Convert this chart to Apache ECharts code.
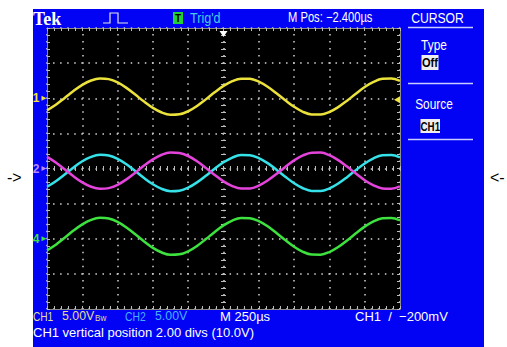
<!DOCTYPE html>
<html>
<head>
<meta charset="utf-8">
<title>TDS scope screen</title>
<script src="https://cdn.jsdelivr.net/npm/echarts@6/dist/echarts.min.js"></script>
<style>
  html, body { margin: 0; padding: 0; background: #ffffff; }
  #scope { width: 507px; height: 347px; }
</style>
</head>
<body>
<div id="scope"></div>
<script>
// Acquisition: 250 µs/div, 10 horizontal divisions, one sample every 62.5 µs
const timeUs = [
  -1250, -1187.5, -1125, -1062.5, -1000, -937.5, -875, -812.5, -750, -687.5,
  -625, -562.5, -500, -437.5, -375, -312.5, -250, -187.5, -125, -62.5,
  0, 62.5, 125, 187.5, 250, 312.5, 375, 437.5, 500, 562.5,
  625, 687.5, 750, 812.5, 875, 937.5, 1000, 1062.5, 1125, 1187.5, 1250
];

// Trace voltages (V), relative to each channel's ground marker
const ch1Volts = [
  -1.72, -0.93, 0.04, 1.03, 1.91, 2.53, 2.82, 2.72, 2.25, 1.48,
  0.52, -0.48, -1.37, -2.03, -2.35, -2.28, -1.85, -1.10, -0.16, 0.85,
  1.76, 2.44, 2.79, 2.77, 2.36, 1.64, 0.71, -0.29, -1.22, -1.93,
  -2.32, -2.33, -1.96, -1.26, -0.35, 0.65, 1.60, 2.33, 2.76, 2.80, 2.47
];
const ch2Volts = [
  -2.60, -1.81, -0.85, 0.15, 1.03, 1.65, 1.94, 1.84, 1.37, 0.60,
  -0.36, -1.36, -2.25, -2.91, -3.23, -3.16, -2.73, -1.98, -1.04, -0.03,
  0.88, 1.56, 1.91, 1.89, 1.48, 0.76, -0.17, -1.17, -2.10, -2.81,
  -3.20, -3.21, -2.84, -2.14, -1.23, -0.23, 0.72, 1.45, 1.88, 1.92, 1.59
];
const ch3Volts = [
  1.65, 0.86, -0.11, -1.10, -1.98, -2.60, -2.89, -2.79, -2.32, -1.55,
  -0.59, 0.41, 1.30, 1.96, 2.28, 2.21, 1.78, 1.03, 0.09, -0.92,
  -1.83, -2.51, -2.86, -2.84, -2.43, -1.71, -0.78, 0.22, 1.15, 1.86,
  2.25, 2.26, 1.89, 1.19, 0.28, -0.72, -1.67, -2.40, -2.83, -2.87, -2.54
];
const ch4Volts = [
  -1.65, -0.84, 0.14, 1.16, 2.05, 2.69, 2.98, 2.88, 2.40, 1.61,
  0.63, -0.38, -1.30, -1.96, -2.29, -2.22, -1.78, -1.02, -0.05, 0.97,
  1.90, 2.59, 2.95, 2.93, 2.51, 1.78, 0.83, -0.19, -1.13, -1.86,
  -2.25, -2.27, -1.89, -1.18, -0.25, 0.77, 1.73, 2.48, 2.91, 2.96, 2.62
];

// Vertical settings per channel: CH1, CH2, CH3, CH4
const channelNames = ['1', '2', '3', '4'];
const voltsPerDiv = [5, 5, 5, 5];
const positionDivs = [2.0, 0.0, 0.0, -2.0];
const triggerLevelVolts = -0.2;   // CH1 rising edge, -200 mV
const triggerTimeUs = 0;

// Screen layout (pixels)
const GX = 47, GY = 28, GW = 353, GH = 281;
const CX = GX + GW / 2, CY = GY + GH / 2;
const FONT = '"Liberation Sans", Arial, sans-serif';

const traceColors = ['#ece23c', '#36e2ea', '#e444dc', '#3ee23e'];
const markerColors = ['#ece23c', '#b88cf4', '#e444dc', '#3ee23e'];

function toScreenDivs(volts, ch) {
  return timeUs.map((t, i) => [t, positionDivs[ch] + volts[i] / voltsPerDiv[ch]]);
}

function groundMarker(ch) {
  return {
    coord: [timeUs[0], positionDivs[ch]],
    symbol: 'triangle', symbolRotate: -90, symbolSize: [5, 5], symbolOffset: [-3, 0],
    itemStyle: { color: markerColors[ch] },
    label: { show: true, position: 'left', distance: 2, formatter: channelNames[ch],
             color: markerColors[ch], fontSize: 12, fontWeight: 'bold', fontFamily: FONT }
  };
}

const dotColor = '#d4d4d4';
const tickColor = '#bdbdbd';

function edgeAxis(position, extra) {
  return Object.assign({
    type: 'value', gridIndex: 0, position: position,
    axisLine: { show: true, onZero: false, lineStyle: { color: '#8c8c8c', width: 1 } },
    axisTick: { show: true, inside: true, length: 3, lineStyle: { color: tickColor, width: 1 } },
    minorTick: { show: true, splitNumber: 5, length: 3, lineStyle: { color: tickColor, width: 1 } },
    axisLabel: { show: false },
    splitLine: { show: false }
  }, extra);
}

const xRange = { min: timeUs[0], max: timeUs[timeUs.length - 1], interval: 250 };
const yRange = { min: -4, max: 4, interval: 1 };

const chart = echarts.init(document.getElementById('scope'), null, { renderer: 'svg' });

const option = {
  animation: false,
  backgroundColor: '#ffffff',
  grid: [
    { left: GX, top: GY, width: GW, height: GH, show: true, backgroundColor: '#000000', borderWidth: 0 },
    { left: GX, top: CY - 2.5, width: GW, height: 5, show: false },
    { left: CX - 2.5, top: GY, width: 5, height: GH, show: false }
  ],
  xAxis: [
    edgeAxis('bottom', Object.assign({}, xRange, {
      splitLine: { show: true, lineStyle: { color: dotColor, width: 1.5, type: [1.5, GH / 40 - 1.5], dashOffset: 0.75 } }
    })),
    edgeAxis('top', Object.assign({}, xRange)),
    Object.assign({}, xRange, {
      type: 'value', gridIndex: 1, position: 'bottom',
      axisLine: { show: false, onZero: false },
      axisTick: { show: true, inside: true, length: 5, lineStyle: { color: tickColor, width: 1 } },
      minorTick: { show: true, splitNumber: 5, length: 5, lineStyle: { color: tickColor, width: 1 } },
      axisLabel: { show: false }, splitLine: { show: false }
    }),
    { type: 'value', gridIndex: 2, show: false, min: 0, max: 1 }
  ],
  yAxis: [
    edgeAxis('left', Object.assign({}, yRange, {
      splitLine: { show: true, lineStyle: { color: dotColor, width: 1.5, type: [1.5, GW / 50 - 1.5], dashOffset: 0.75 } }
    })),
    edgeAxis('right', Object.assign({}, yRange)),
    { type: 'value', gridIndex: 1, show: false, min: 0, max: 1 },
    Object.assign({}, yRange, {
      type: 'value', gridIndex: 2, position: 'left',
      axisLine: { show: false, onZero: false },
      axisTick: { show: true, inside: true, length: 5, lineStyle: { color: tickColor, width: 1 } },
      minorTick: { show: true, splitNumber: 5, length: 5, lineStyle: { color: tickColor, width: 1 } },
      axisLabel: { show: false }, splitLine: { show: false }
    })
  ],
  series: [
    {
      name: 'CH1', type: 'line', xAxisIndex: 0, yAxisIndex: 0,
      data: toScreenDivs(ch1Volts, 0), showSymbol: false, smooth: 0.35,
      lineStyle: { color: traceColors[0], width: 2.5 }, z: 3,
      markPoint: {
        silent: true,
        data: [
          groundMarker(0),
          {
            coord: [timeUs[timeUs.length - 1], positionDivs[0] + triggerLevelVolts / voltsPerDiv[0]],
            symbol: 'triangle', symbolRotate: 90, symbolSize: [7, 6], symbolOffset: [-3, 0],
            itemStyle: { color: '#f2e640' }, label: { show: false }
          },
          {
            coord: [triggerTimeUs, yRange.max],
            symbol: 'triangle', symbolRotate: 180, symbolSize: [8, 6], symbolOffset: [0, 6],
            itemStyle: { color: '#ffffff' }, label: { show: false }
          }
        ]
      }
    },
    {
      name: 'CH2', type: 'line', xAxisIndex: 0, yAxisIndex: 0,
      data: toScreenDivs(ch2Volts, 1), showSymbol: false, smooth: 0.35,
      lineStyle: { color: traceColors[1], width: 2.5 }, z: 3,
      markPoint: { silent: true, data: [groundMarker(1)] }
    },
    {
      name: 'CH3', type: 'line', xAxisIndex: 0, yAxisIndex: 0,
      data: toScreenDivs(ch3Volts, 2), showSymbol: false, smooth: 0.35,
      lineStyle: { color: traceColors[2], width: 2.5 }, z: 3
    },
    {
      name: 'CH4', type: 'line', xAxisIndex: 0, yAxisIndex: 0,
      data: toScreenDivs(ch4Volts, 3), showSymbol: false, smooth: 0.35,
      lineStyle: { color: traceColors[3], width: 2.5 }, z: 3,
      markPoint: { silent: true, data: [groundMarker(3)] }
    }
  ],
  graphic: [
    // instrument bezel
    { type: 'rect', z: -100, silent: true, shape: { x: 33, y: 9, width: 451, height: 338 }, style: { fill: '#0202f4' } },

    // header strip
    { type: 'text', x: 33, y: 19, silent: true,
      style: { text: 'Tek', fill: '#ffffff', font: 'bold 18px "Liberation Serif", "DejaVu Serif", serif', textVerticalAlign: 'middle', verticalAlign: 'middle' } },
    { type: 'polyline', silent: true,
      shape: { points: [[103, 23], [110, 23], [110, 13], [118, 13], [118, 23], [128, 23]] },
      style: { stroke: '#e6e6e6', lineWidth: 1.2, fill: null } },
    { type: 'rect', silent: true, shape: { x: 173, y: 12, width: 10, height: 12 }, style: { fill: '#22d03a' } },
    { type: 'text', x: 178, y: 18.5, silent: true,
      style: { text: 'T', fill: '#000000', font: 'bold 10px ' + FONT, textAlign: 'center', align: 'center', textVerticalAlign: 'middle', verticalAlign: 'middle' } },
    { type: 'text', x: 190, y: 18, scaleX: 0.9, silent: true,
      style: { text: "Trig'd", fill: '#44cce6', font: '14px ' + FONT, textVerticalAlign: 'middle', verticalAlign: 'middle' } },
    { type: 'text', x: 288, y: 18, scaleX: 0.8, silent: true,
      style: { text: 'M Pos: \u22122.400\u00b5s', fill: '#ffffff', font: '14px ' + FONT, textVerticalAlign: 'middle', verticalAlign: 'middle' } },
    { type: 'text', x: 437.5, y: 18, scaleX: 0.87, silent: true,
      style: { text: 'CURSOR', fill: '#ffffff', font: '14px ' + FONT, textAlign: 'center', align: 'center', textVerticalAlign: 'middle', verticalAlign: 'middle' } },

    // side menu
    { type: 'line', silent: true, shape: { x1: 408, y1: 27.5, x2: 473, y2: 27.5 }, style: { stroke: '#c8ccff', lineWidth: 1.5 } },
    { type: 'text', x: 434, y: 45, scaleX: 0.85, silent: true,
      style: { text: 'Type', fill: '#ffffff', font: '14px ' + FONT, textAlign: 'center', align: 'center', textVerticalAlign: 'middle', verticalAlign: 'middle' } },
    { type: 'rect', silent: true, shape: { x: 421.5, y: 55, width: 17, height: 15 }, style: { fill: '#eeeeee' } },
    { type: 'text', x: 430, y: 62.5, scaleX: 0.85, silent: true,
      style: { text: 'Off', fill: '#000000', font: 'bold 13px ' + FONT, textAlign: 'center', align: 'center', textVerticalAlign: 'middle', verticalAlign: 'middle' } },
    { type: 'line', silent: true, shape: { x1: 408, y1: 83.5, x2: 473, y2: 83.5 }, style: { stroke: '#c8ccff', lineWidth: 1.5 } },
    { type: 'text', x: 434, y: 104, scaleX: 0.85, silent: true,
      style: { text: 'Source', fill: '#ffffff', font: '14px ' + FONT, textAlign: 'center', align: 'center', textVerticalAlign: 'middle', verticalAlign: 'middle' } },
    { type: 'rect', silent: true, shape: { x: 420.5, y: 119, width: 19.5, height: 14 }, style: { fill: '#eeeeee' } },
    { type: 'text', x: 430.3, y: 126, scaleX: 0.75, silent: true,
      style: { text: 'CH1', fill: '#000000', font: 'bold 13px ' + FONT, textAlign: 'center', align: 'center', textVerticalAlign: 'middle', verticalAlign: 'middle' } },
    { type: 'line', silent: true, shape: { x1: 408, y1: 139.5, x2: 473, y2: 139.5 }, style: { stroke: '#c8ccff', lineWidth: 1.5 } },

    // status line
    { type: 'text', x: 33, y: 316, scaleX: 0.78, silent: true,
      style: { text: 'CH1', fill: '#e4dc92', font: '13px ' + FONT, textVerticalAlign: 'middle', verticalAlign: 'middle' } },
    { type: 'text', x: 62, y: 316, scaleX: 0.95, silent: true,
      style: { text: '5.00V', fill: '#e4dc92', font: '13px ' + FONT, textVerticalAlign: 'middle', verticalAlign: 'middle' } },
    { type: 'text', x: 95, y: 318, scaleX: 0.9, silent: true,
      style: { text: 'Bw', fill: '#e4dc92', font: '9px ' + FONT, textVerticalAlign: 'middle', verticalAlign: 'middle' } },
    { type: 'text', x: 125, y: 316, scaleX: 0.8, silent: true,
      style: { text: 'CH2', fill: '#46b2ff', font: '13px ' + FONT, textVerticalAlign: 'middle', verticalAlign: 'middle' } },
    { type: 'text', x: 155, y: 316, scaleX: 0.95, silent: true,
      style: { text: '5.00V', fill: '#46b2ff', font: '13px ' + FONT, textVerticalAlign: 'middle', verticalAlign: 'middle' } },
    { type: 'text', x: 220, y: 316, silent: true,
      style: { text: 'M 250\u00b5s', fill: '#ffffff', font: '13px ' + FONT, textVerticalAlign: 'middle', verticalAlign: 'middle' } },
    { type: 'text', x: 355, y: 316, silent: true,
      style: { text: 'CH1  /  \u2212200mV', fill: '#ffffff', font: '13px ' + FONT, textVerticalAlign: 'middle', verticalAlign: 'middle' } },
    { type: 'text', x: 33, y: 332, silent: true,
      style: { text: 'CH1 vertical position 2.00 divs (10.0V)', fill: '#ffffff', font: '13px ' + FONT, textVerticalAlign: 'middle', verticalAlign: 'middle' } },

    // pointers beside the bezel
    { type: 'text', x: 7, y: 177.5, silent: true,
      style: { text: '->', fill: '#000000', font: '16px ' + FONT, textVerticalAlign: 'middle', verticalAlign: 'middle' } },
    { type: 'text', x: 490, y: 177, silent: true,
      style: { text: '<-', fill: '#000000', font: '16px ' + FONT, textVerticalAlign: 'middle', verticalAlign: 'middle' } }
  ]
};

chart.setOption(option);
</script>
</body>
</html>
